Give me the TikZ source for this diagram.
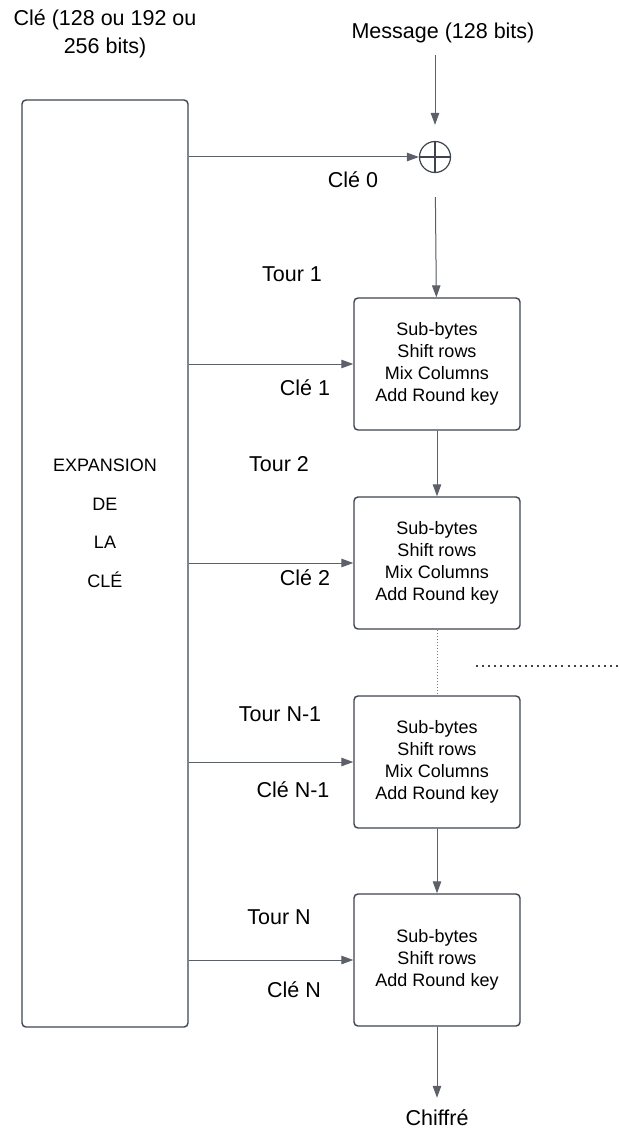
\documentclass[tikz,border=0pt]{standalone}
\usepackage{fontspec}
\setmainfont{Liberation Sans}
\usetikzlibrary{arrows.meta}

\definecolor{ink}{HTML}{3E444E}

\begin{document}
\begin{tikzpicture}[
		x=1pt,
		y=-1pt,
		>={Triangle[length=12pt,width=8.5pt]},
		lbl/.style={font=\fontsize{21.5}{28}\selectfont,align=center,inner sep=0pt},
		keybox/.style={draw=ink,line width=1.4pt,rounded corners=4pt,minimum width=166pt,minimum height=927pt},
		keytxt/.style={font=\fontsize{18}{38.5}\selectfont,align=center,inner sep=0pt},
		tour/.style={draw=ink,line width=1.4pt,rounded corners=4pt,align=center,minimum width=166pt,minimum height=132pt,fill=white,font=\fontsize{18}{22}\selectfont},
		xorop/.style={draw=ink,circle,line width=1.2pt,minimum size=31pt,inner sep=0pt,
			path picture={\draw[ink,line width=1.2pt] (path picture bounding box.north) -- (path picture bounding box.south)
				(path picture bounding box.west) -- (path picture bounding box.east);}},
		flow/.style={->,draw=ink!85,fill=ink,line width=1pt},
		gap/.style={draw=ink!70,line width=0.9pt,dash pattern=on 1pt off 2pt},
		more/.style={draw=ink,line width=2pt,dash pattern=on 2pt off 4.1pt}
		]
		
		\useasboundingbox (0,0) rectangle (619,1142);
		
		% inputs
		\node[lbl] (cle) at (105,34) {Clé (128 ou 192 ou\\256 bits)};
		\node[lbl] (msg) at (443,33) {Message (128 bits)};
		
		% key schedule
		\node[keybox] (kbox) at (105,563.5) {};
		\node[keytxt] (exptxt) at (105,523.5) {EXPANSION\\DE\\LA\\CLÉ};
		
		% initial xor
		\node[xorop] (xor) at (435,157) {};
		
		% rounds
		\node[tour] (r1) at (437,364) {Sub-bytes\\Shift rows\\Mix Columns\\Add Round key};
		\node[tour] (r2) at (437,563) {Sub-bytes\\Shift rows\\Mix Columns\\Add Round key};
		\node[tour] (r3) at (437,762) {Sub-bytes\\Shift rows\\Mix Columns\\Add Round key};
		\node[tour] (r4) at (437,960) {Sub-bytes\\Shift rows\\Add Round key};
		
		\node[lbl] (out) at (437,1118) {Chiffré};
		
		% round labels
		\node[lbl] (t1) at (292,274) {Tour 1};
		\node[lbl] (t2) at (279,464) {Tour 2};
		\node[lbl] (t3) at (280,714) {Tour N-1};
		\node[lbl] (t4) at (279,917) {Tour N};
		
		% key labels
		\node[lbl] (k0) at (353,180) {Clé 0};
		\node[lbl] (k1) at (305,388) {Clé 1};
		\node[lbl] (k2) at (305,578) {Clé 2};
		\node[lbl] (k3) at (293,790) {Clé N-1};
		\node[lbl] (k4) at (294,990) {Clé N};
		
		% data path
		\draw[flow,shorten <=12pt,shorten >=16pt] (msg.south -| xor) -- (xor);
		\draw[flow,shorten <=24pt] (xor) -- (r1);
		\draw[flow] (r1) -- (r2);
		\draw[gap] (r2) -- (r3);
		\draw[flow] (r3) -- (r4);
		\draw[flow,shorten >=12pt] (r4) -- (out);
		
		% round keys
		\draw[flow] (kbox.east |- xor) -- (xor);
		\draw[flow] (kbox.east |- r1.west) -- (r1.west);
		\draw[flow] (kbox.east |- r2.west) -- (r2.west);
		\draw[flow] (kbox.east |- r3.west) -- (r3.west);
		\draw[flow] (kbox.east |- r4.west) -- (r4.west);
		
		% further rounds
		\coordinate (dotsA) at (476,666);
		\coordinate (dotsB) at (619,666);
		\draw[more] (dotsA) -- (dotsB);
		
	\end{tikzpicture}
\end{document}
